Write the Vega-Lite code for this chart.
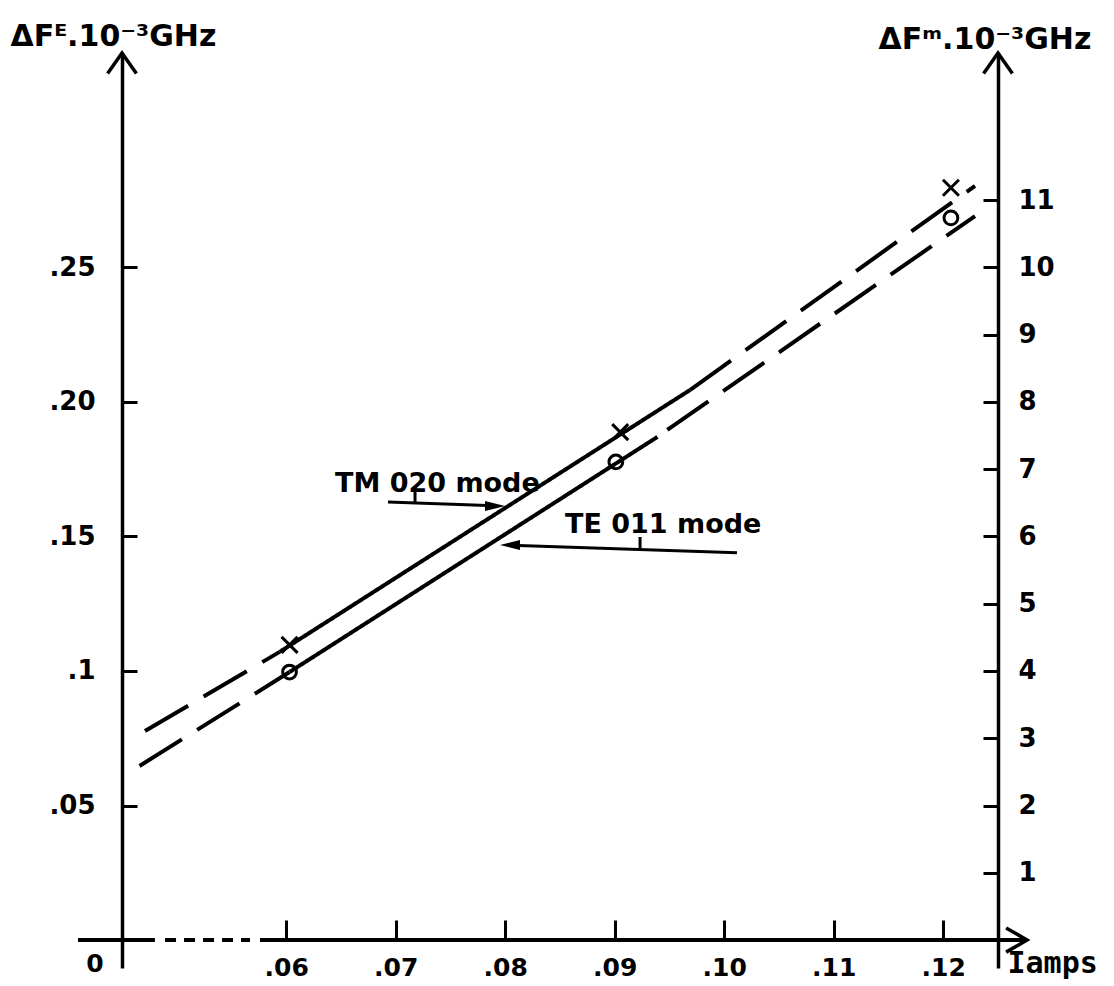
{
  "$schema": "https://vega.github.io/schema/vega-lite/v6.json",
  "width": 876,
  "height": 915,
  "autosize": {"type": "none"},
  "padding": {"left": 122, "top": 53, "right": 116, "bottom": 18},
  "background": "white",
  "config": {
    "view": {"stroke": null},
    "font": "DejaVu Sans",
    "axis": {
      "grid": false,
      "domainColor": "black",
      "tickColor": "black",
      "labelColor": "black",
      "titleColor": "black",
      "labelFont": "DejaVu Sans",
      "titleFont": "DejaVu Sans",
      "labelFontWeight": "bold",
      "titleFontWeight": "bold",
      "domainWidth": 3.5,
      "tickWidth": 3,
      "labelFlush": false,
      "labelOverlap": false
    }
  },
  "datasets": {
    "lines": [
      {"mode": "TM020", "seg": "TM-1", "style": "dashed", "x": 0.0471, "y": 0.0777},
      {"mode": "TM020", "seg": "TM-1", "style": "dashed", "x": 0.0594, "y": 0.1071},
      {"mode": "TM020", "seg": "TM-2", "style": "solid", "x": 0.0594, "y": 0.1071},
      {"mode": "TM020", "seg": "TM-2", "style": "solid", "x": 0.0969, "y": 0.2045},
      {"mode": "TM020", "seg": "TM-3", "style": "dashed", "x": 0.0969, "y": 0.2045},
      {"mode": "TM020", "seg": "TM-3", "style": "dashed", "x": 0.1229, "y": 0.2803},
      {"mode": "TE011", "seg": "TE-1", "style": "dashed", "x": 0.0466, "y": 0.0647},
      {"mode": "TE011", "seg": "TE-1", "style": "dashed", "x": 0.0603, "y": 0.0996},
      {"mode": "TE011", "seg": "TE-2", "style": "solid", "x": 0.0603, "y": 0.0996},
      {"mode": "TE011", "seg": "TE-2", "style": "solid", "x": 0.0939, "y": 0.187},
      {"mode": "TE011", "seg": "TE-3", "style": "dashed", "x": 0.0948, "y": 0.1896},
      {"mode": "TE011", "seg": "TE-3", "style": "dashed", "x": 0.1229, "y": 0.2691}
    ],
    "points": [
      {"mode": "TM020", "x": 0.0603, "y": 0.1097},
      {"mode": "TE011", "x": 0.0603, "y": 0.0996},
      {"mode": "TM020", "x": 0.0905, "y": 0.1888},
      {"mode": "TE011", "x": 0.0901, "y": 0.1777},
      {"mode": "TM020", "x": 0.1207, "y": 0.2796},
      {"mode": "TE011", "x": 0.1207, "y": 0.2684}
    ],
    "axisline": [
      {"style": "solid", "x": 0.04098, "x2": 0.04801, "y": 0},
      {"style": "dotted", "x": 0.04893, "x2": 0.05669, "y": 0},
      {"style": "solid", "x": 0.0576, "x2": 0.12765, "y": 0}
    ],
    "uptips": [
      {"x": 0.045, "y": 0.3297},
      {"x": 0.125, "y": 0.3297}
    ],
    "righttip": [
      {"x": 0.12765, "y": 0}
    ],
    "annorules": [
      {"x": 0.06929, "y": 0.1628, "x2": 0.079, "y2": 0.1614},
      {"x": 0.07176, "y": 0.1684, "x2": 0.07176, "y2": 0.1628},
      {"x": 0.10116, "y": 0.1439, "x2": 0.0805, "y2": 0.1467},
      {"x": 0.09231, "y": 0.1498, "x2": 0.09231, "y2": 0.1454}
    ],
    "heads": [
      {"dir": "right", "x": 0.07998, "y": 0.1613},
      {"dir": "left", "x": 0.07952, "y": 0.1468}
    ],
    "labels": [
      {"text": "TM 020 mode", "x": 0.06445, "y": 0.1665},
      {"text": "TE 011 mode", "x": 0.08546, "y": 0.1513}
    ],
    "zero": [
      {"text": "0", "x": 0.04253, "y": -0.0089}
    ]
  },
  "encoding": {
    "x": {
      "field": "x",
      "type": "quantitative",
      "scale": {"domain": [0.045, 0.125], "nice": false, "zero": false},
      "axis": {
        "orient": "bottom",
        "offset": -28,
        "values": [0.06, 0.07, 0.08, 0.09, 0.1, 0.11, 0.12],
        "labelExpr": "replace(format(datum.value, '.2f'), '0.', '.')",
        "domain": false,
        "tickSize": -20,
        "tickWidth": 3,
        "labelPadding": 35,
        "labelFontSize": 25,
        "title": "Iamps",
        "titleFont": "DejaVu Sans Mono",
        "titleX": 885,
        "titleY": 32,
        "titleAlign": "left",
        "titleBaseline": "alphabetic",
        "titleAngle": 0,
        "titleFontSize": 30
      }
    },
    "y": {
      "field": "y",
      "type": "quantitative",
      "scale": {"domain": [-0.0104, 0.3297], "nice": false, "zero": false},
      "axis": null
    }
  },
  "resolve": {"axis": {"y": "independent"}, "scale": {"shape": "independent"}},
  "layer": [
    {
      "data": {"name": "axisline"},
      "mark": {"type": "rule", "strokeWidth": 4, "color": "black"},
      "encoding": {
        "x2": {"field": "x2"},
        "strokeDash": {
          "field": "style",
          "type": "nominal",
          "scale": {"domain": ["solid", "dashed", "dotted"], "range": [[1, 0], [50, 18], [11, 8]]},
          "legend": null
        }
      }
    },
    {
      "data": {"name": "lines"},
      "mark": {"type": "line", "strokeWidth": 4, "color": "black", "strokeCap": "butt"},
      "encoding": {
        "y": {
          "field": "y",
          "type": "quantitative",
          "scale": {"domain": [-0.0104, 0.3297], "nice": false, "zero": false},
          "axis": {
            "orient": "left",
            "values": [0.05, 0.1, 0.15, 0.2, 0.25],
            "labelExpr": "datum.value == 0.1 ? '.1' : replace(format(datum.value, '.2f'), '0.', '.')",
            "tickSize": -15,
            "labelPadding": 42,
            "labelFontSize": 26,
            "title": "ΔFᴱ.10⁻³GHz",
            "titleAngle": 0,
            "titleX": -112,
            "titleY": -8,
            "titleAlign": "left",
            "titleBaseline": "alphabetic",
            "titleFontSize": 30
          }
        },
        "detail": {"field": "seg", "type": "nominal"},
        "strokeDash": {
          "field": "style",
          "type": "nominal",
          "scale": {"domain": ["solid", "dashed", "dotted"], "range": [[1, 0], [50, 18], [11, 8]]},
          "legend": null
        }
      }
    },
    {
      "data": {"name": "points"},
      "mark": {"type": "point", "filled": false, "strokeWidth": 3, "color": "black", "opacity": 1},
      "encoding": {
        "y": {
          "field": "y",
          "type": "quantitative",
          "scale": {"domain": [-0.0104, 0.3297], "nice": false, "zero": false},
          "axis": {
            "orient": "right",
            "values": [0.025, 0.05, 0.075, 0.1, 0.125, 0.15, 0.175, 0.2, 0.225, 0.25, 0.275],
            "labelExpr": "format(round(datum.value * 40), 'd')",
            "tickSize": -15,
            "labelPadding": 35,
            "labelFontSize": 26,
            "title": "ΔFᵐ.10⁻³GHz",
            "titleAngle": 0,
            "titleX": -120,
            "titleY": -5,
            "titleAlign": "left",
            "titleBaseline": "alphabetic",
            "titleFontSize": 30
          }
        },
        "shape": {
          "field": "mode",
          "type": "nominal",
          "scale": {"domain": ["TM020", "TE011"], "range": ["M -1 -1 L 1 1 M 1 -1 L -1 1", "circle"]},
          "legend": null
        },
        "size": {
          "field": "mode",
          "type": "ordinal",
          "scale": {"domain": ["TM020", "TE011"], "range": [256, 190]},
          "legend": null
        }
      }
    },
    {
      "data": {"name": "uptips"},
      "mark": {"type": "point", "shape": "M -0.6 0.85 L 0 0 L 0.6 0.85", "size": 2304, "filled": false, "strokeWidth": 3.5, "color": "black", "opacity": 1}
    },
    {
      "data": {"name": "righttip"},
      "mark": {"type": "point", "shape": "M -0.95 -0.55 L 0 0 L -0.95 0.55", "size": 1936, "filled": false, "strokeWidth": 3.5, "color": "black", "opacity": 1}
    },
    {
      "data": {"name": "annorules"},
      "mark": {"type": "rule", "strokeWidth": 3, "color": "black"},
      "encoding": {
        "x2": {"field": "x2"},
        "y2": {"field": "y2"}
      }
    },
    {
      "data": {"name": "heads"},
      "mark": {"type": "point", "filled": true, "size": 1600, "color": "black", "opacity": 1, "strokeWidth": 0},
      "encoding": {
        "shape": {
          "field": "dir",
          "type": "nominal",
          "scale": {"domain": ["right", "left"], "range": ["M -1 -0.25 L 0 0 L -1 0.25 Z", "M 1 -0.25 L 0 0 L 1 0.25 Z"]},
          "legend": null
        }
      }
    },
    {
      "data": {"name": "labels"},
      "mark": {"type": "text", "align": "left", "baseline": "alphabetic", "fontSize": 27, "fontWeight": "bold", "font": "DejaVu Sans", "color": "black"},
      "encoding": {"text": {"field": "text"}}
    },
    {
      "data": {"name": "zero"},
      "mark": {"type": "text", "align": "center", "baseline": "middle", "fontSize": 25, "fontWeight": "bold", "font": "DejaVu Sans", "color": "black"},
      "encoding": {"text": {"field": "text"}}
    }
  ]
}
